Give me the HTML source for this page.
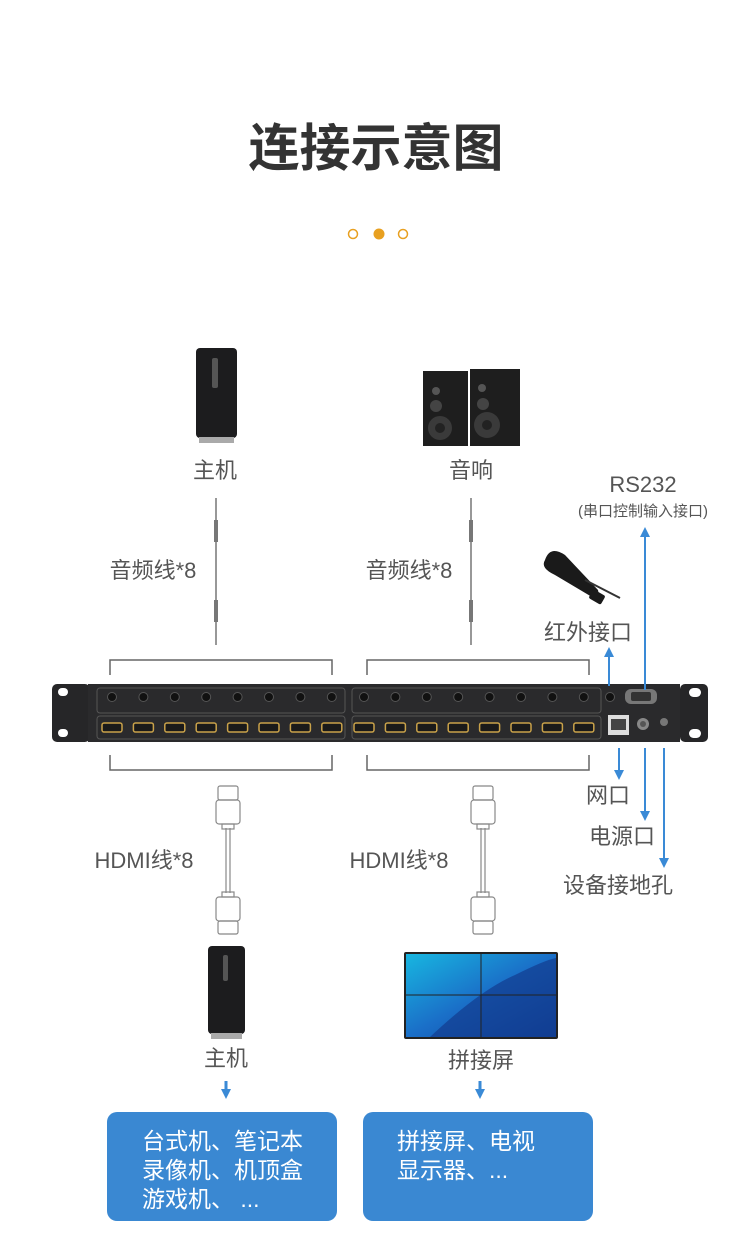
<!DOCTYPE html>
<html><head><meta charset="utf-8"><style>
html,body{margin:0;padding:0;background:#fff;}
svg{display:block;}
text{font-family:"Liberation Sans","Noto Sans CJK SC",sans-serif;}
</style></head><body>
<svg width="750" height="1252" viewBox="0 0 750 1252" xmlns="http://www.w3.org/2000/svg">
<defs>
<marker id="ah" viewBox="0 0 10 10" refX="5" refY="5" markerUnits="userSpaceOnUse" markerWidth="10" markerHeight="10" orient="auto-start-reverse"><path d="M0,0L10,5L0,10z" fill="#3a8ad6"/></marker>
<linearGradient id="sc" x1="0" y1="0" x2="1" y2="1"><stop offset="0" stop-color="#18b6e0"/><stop offset="0.5" stop-color="#1a6fc8"/><stop offset="1" stop-color="#0d3f9a"/></linearGradient>
</defs>
<rect width="750" height="1252" fill="#fff"/>
<text x="376" y="166" text-anchor="middle" font-size="51" font-weight="bold" fill="#333">连接示意图</text>
<circle cx="353" cy="234" r="4.5" fill="none" stroke="#e8a020" stroke-width="1.5"/>
<circle cx="379" cy="234" r="5.5" fill="#e8a020"/>
<circle cx="403" cy="234" r="4.5" fill="none" stroke="#e8a020" stroke-width="1.5"/>

<!-- top host -->
<rect x="196" y="348" width="41" height="90" rx="4" fill="#1c1c1e"/>
<rect x="212" y="358" width="6" height="30" rx="2" fill="#555"/>
<rect x="199" y="437" width="35" height="6" fill="#aaa"/>
<text x="215" y="478" text-anchor="middle" font-size="22" fill="#555">主机</text>
<!-- speakers -->
<g>
<rect x="423" y="371" width="45" height="75" fill="#1e1e1e"/>
<rect x="470" y="369" width="50" height="77" fill="#1e1e1e"/>
<circle cx="436" cy="391" r="4" fill="#555"/><circle cx="482" cy="388" r="4" fill="#555"/>
<circle cx="436" cy="406" r="6" fill="#444"/><circle cx="483" cy="404" r="6" fill="#444"/>
<circle cx="440" cy="428" r="12" fill="#3a3a3a"/><circle cx="487" cy="425" r="13" fill="#3a3a3a"/>
<circle cx="440" cy="428" r="5" fill="#222"/><circle cx="487" cy="425" r="5" fill="#222"/>
</g>
<text x="471" y="478" text-anchor="middle" font-size="22" fill="#555">音响</text>

<!-- audio cables -->
<g stroke="#777" fill="#777">
<line x1="216" y1="498" x2="216" y2="645" stroke-width="1.5"/>
<rect x="214" y="520" width="4" height="22" stroke="none"/>
<rect x="214" y="600" width="4" height="22" stroke="none"/>
<line x1="471" y1="498" x2="471" y2="645" stroke-width="1.5"/>
<rect x="469" y="520" width="4" height="22" stroke="none"/>
<rect x="469" y="600" width="4" height="22" stroke="none"/>
</g>
<text x="153" y="578" text-anchor="middle" font-size="22" fill="#555">音频线*8</text>
<text x="409" y="578" text-anchor="middle" font-size="22" fill="#555">音频线*8</text>

<!-- brackets -->
<g fill="none" stroke="#666" stroke-width="1.5">
<path d="M110,675V660H332V675"/>
<path d="M367,675V660H589V675"/>
<path d="M110,755V770H332V755"/>
<path d="M367,755V770H589V755"/>
</g>

<!-- device -->
<rect x="52" y="684" width="38" height="58" rx="5" fill="#262628"/>
<rect x="58" y="688" width="10" height="8" rx="4" fill="#fff"/>
<rect x="58" y="729" width="10" height="8" rx="4" fill="#fff"/>
<rect x="88" y="684" width="592" height="58" fill="#2a2a2c"/>
<rect x="680" y="684" width="28" height="58" rx="5" fill="#262628"/>
<rect x="689" y="688" width="12" height="9" rx="4.5" fill="#fff"/>
<rect x="689" y="729" width="12" height="9" rx="4.5" fill="#fff"/>
<g fill="none" stroke="#555" stroke-width="1">
<rect x="97" y="688" width="248" height="25" rx="3"/>
<rect x="97" y="716" width="248" height="23" rx="3"/>
<rect x="352" y="688" width="249" height="25" rx="3"/>
<rect x="352" y="716" width="249" height="23" rx="3"/>
</g>
<g id="jk">
<circle cx="112" cy="697" r="4.5" fill="#111" stroke="#555"/>
<circle cx="143.4" cy="697" r="4.5" fill="#111" stroke="#555"/>
<circle cx="174.8" cy="697" r="4.5" fill="#111" stroke="#555"/>
<circle cx="206.2" cy="697" r="4.5" fill="#111" stroke="#555"/>
<circle cx="237.6" cy="697" r="4.5" fill="#111" stroke="#555"/>
<circle cx="269" cy="697" r="4.5" fill="#111" stroke="#555"/>
<circle cx="300.4" cy="697" r="4.5" fill="#111" stroke="#555"/>
<circle cx="331.8" cy="697" r="4.5" fill="#111" stroke="#555"/>
<rect x="102" y="723" width="20" height="9" rx="2" fill="#1a1a1a" stroke="#c9a24a" stroke-width="1.5"/>
<rect x="133.4" y="723" width="20" height="9" rx="2" fill="#1a1a1a" stroke="#c9a24a" stroke-width="1.5"/>
<rect x="164.8" y="723" width="20" height="9" rx="2" fill="#1a1a1a" stroke="#c9a24a" stroke-width="1.5"/>
<rect x="196.2" y="723" width="20" height="9" rx="2" fill="#1a1a1a" stroke="#c9a24a" stroke-width="1.5"/>
<rect x="227.6" y="723" width="20" height="9" rx="2" fill="#1a1a1a" stroke="#c9a24a" stroke-width="1.5"/>
<rect x="259" y="723" width="20" height="9" rx="2" fill="#1a1a1a" stroke="#c9a24a" stroke-width="1.5"/>
<rect x="290.4" y="723" width="20" height="9" rx="2" fill="#1a1a1a" stroke="#c9a24a" stroke-width="1.5"/>
<rect x="321.8" y="723" width="20" height="9" rx="2" fill="#1a1a1a" stroke="#c9a24a" stroke-width="1.5"/>
</g>
<use href="#jk" x="252"/>
<circle cx="610" cy="697" r="4.5" fill="#111" stroke="#555"/>
<rect x="625" y="689" width="32" height="15" rx="6" fill="#777"/>
<rect x="631" y="692" width="20" height="9" rx="2" fill="#333"/>
<rect x="608" y="715" width="21" height="20" fill="#ddd"/>
<rect x="611" y="719" width="15" height="11" fill="#444"/>
<circle cx="643" cy="724" r="6" fill="#888"/><circle cx="643" cy="724" r="3" fill="#555"/>
<circle cx="664" cy="722" r="4" fill="#777"/>

<!-- blue arrows -->
<g stroke="#3a8ad6" stroke-width="2" fill="none">
<line x1="645" y1="690" x2="645" y2="532" marker-end="url(#ah)"/>
<line x1="609" y1="686" x2="609" y2="652" marker-end="url(#ah)"/>
<line x1="619" y1="748" x2="619" y2="775" marker-end="url(#ah)"/>
<line x1="645" y1="748" x2="645" y2="816" marker-end="url(#ah)"/>
<line x1="664" y1="748" x2="664" y2="863" marker-end="url(#ah)"/>
<line x1="226" y1="1081" x2="226" y2="1094" stroke-width="3" marker-end="url(#ah)"/>
<line x1="480" y1="1081" x2="480" y2="1094" stroke-width="3" marker-end="url(#ah)"/>
</g>
<text x="643" y="492" text-anchor="middle" font-size="22" fill="#555">RS232</text>
<text x="643" y="516" text-anchor="middle" font-size="15" fill="#555">(串口控制输入接口)</text>
<!-- IR cable -->
<g fill="#1a1a1a">
<path d="M545,560 Q550,545 565,555 L598,590 Q600,598 592,597 L555,575 Q540,568 545,560z"/>
<rect x="590" y="592" width="14" height="10" rx="2" transform="rotate(30 597 597)"/>
<line x1="585" y1="580" x2="620" y2="598" stroke="#333" stroke-width="2"/>
</g>
<text x="588" y="640" text-anchor="middle" font-size="22" fill="#555">红外接口</text>
<text x="608" y="803" text-anchor="middle" font-size="22" fill="#555">网口</text>
<text x="622" y="844" text-anchor="middle" font-size="22" fill="#555">电源口</text>
<text x="618" y="893" text-anchor="middle" font-size="22" fill="#555">设备接地孔</text>

<!-- HDMI cables -->
<g fill="none" stroke="#888" stroke-width="1.2">
<line x1="226" y1="828" x2="226" y2="893"/><line x1="230" y1="828" x2="230" y2="893"/>
<rect x="218" y="786" width="20" height="14" rx="2"/>
<rect x="216" y="800" width="24" height="24" rx="3"/>
<rect x="222" y="824" width="12" height="5"/>
<rect x="222" y="892" width="12" height="5"/>
<rect x="216" y="897" width="24" height="24" rx="3"/>
<rect x="218" y="921" width="20" height="13" rx="2"/>
<line x1="481" y1="828" x2="481" y2="893"/><line x1="485" y1="828" x2="485" y2="893"/>
<rect x="473" y="786" width="20" height="14" rx="2"/>
<rect x="471" y="800" width="24" height="24" rx="3"/>
<rect x="477" y="824" width="12" height="5"/>
<rect x="477" y="892" width="12" height="5"/>
<rect x="471" y="897" width="24" height="24" rx="3"/>
<rect x="473" y="921" width="20" height="13" rx="2"/>
</g>
<text x="144" y="868" text-anchor="middle" font-size="22" fill="#555">HDMI线*8</text>
<text x="399" y="868" text-anchor="middle" font-size="22" fill="#555">HDMI线*8</text>

<!-- bottom host -->
<rect x="208" y="946" width="37" height="88" rx="4" fill="#1c1c1e"/>
<rect x="223" y="955" width="5" height="26" rx="2" fill="#555"/>
<rect x="211" y="1033" width="31" height="6" fill="#aaa"/>
<text x="226" y="1066" text-anchor="middle" font-size="22" fill="#555">主机</text>
<!-- video wall -->
<rect x="404" y="952" width="154" height="87" rx="2" fill="#222"/>
<rect x="406" y="954" width="150" height="83" fill="url(#sc)"/>
<path d="M430,1037 Q480,990 515,975 Q545,960 556,958 L556,1037z" fill="#123c8e" opacity="0.7"/>
<line x1="481" y1="954" x2="481" y2="1037" stroke="#222" stroke-width="1"/>
<line x1="406" y1="995" x2="556" y2="995" stroke="#222" stroke-width="1"/>
<text x="481" y="1068" text-anchor="middle" font-size="22" fill="#555">拼接屏</text>

<!-- boxes -->
<rect x="107" y="1112" width="230" height="109" rx="10" fill="#3a88d2"/>
<rect x="363" y="1112" width="230" height="109" rx="10" fill="#3a88d2"/>
<g font-size="23" fill="#fff">
<text x="142" y="1149">台式机、笔记本</text>
<text x="142" y="1178">录像机、机顶盒</text>
<text x="142" y="1207">游戏机、 ...</text>
<text x="397" y="1149">拼接屏、电视</text>
<text x="397" y="1178">显示器、...</text>
</g>
</svg>
</body></html>
